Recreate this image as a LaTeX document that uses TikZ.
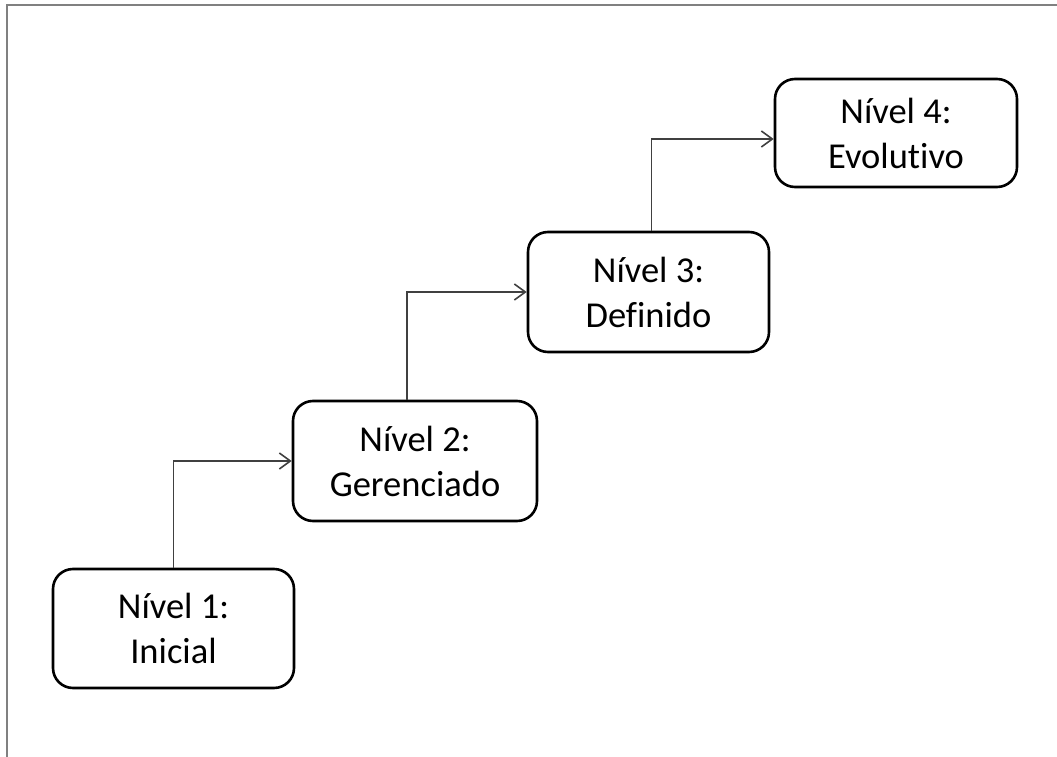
\documentclass[tikz,border=0pt]{standalone}
\usepackage{fontspec}
\setmainfont[Ligatures=NoCommon]{Carlito}
\usetikzlibrary{arrows.meta}
\begin{document}
\begin{tikzpicture}[x=1pt,y=-1pt,
  level/.style={draw=black, line width=2.6pt, rounded corners=20pt,
    minimum width=#1, align=center, font=\fontsize{36.5}{45}\selectfont,
    inner sep=0pt, text=black},
  stepline/.style={draw=black!75, line width=1.6pt,
    -{Straight Barb[length=11pt,width=16pt,line width=1.6pt]}},
  frame/.style={draw=black!50, line width=2.6pt}]
  \useasboundingbox (0,0) rectangle (1057,757);

  % page frame on top and left
  \draw[frame] (7,757) -- (7,5) -- (1057,5);

  % the four levels
  \node[level=241pt, minimum height=119pt] (n1) at (173.5,628.5) {Nível 1:\\Inicial};
  \node[level=244pt, minimum height=120pt] (n2) at (415,461) {Nível 2:\\Gerenciado};
  \node[level=241pt, minimum height=120pt] (n3) at (648.5,292) {Nível 3:\\Definido};
  \node[level=242pt, minimum height=108pt] (n4) at (896,133) {Nível 4:\\Evolutivo};

  % stair connectors
  \draw[stepline] (n1.north) |- (n2.west);
  \coordinate (c2) at ([xshift=-8pt]n2.north);
  \draw[stepline] (c2) |- (n3.west);
  \coordinate (c3) at ([xshift=3pt]n3.north);
  \coordinate (e4) at ([yshift=-6pt]n4.west);
  \draw[stepline] (c3) |- (e4);
\end{tikzpicture}
\end{document}
